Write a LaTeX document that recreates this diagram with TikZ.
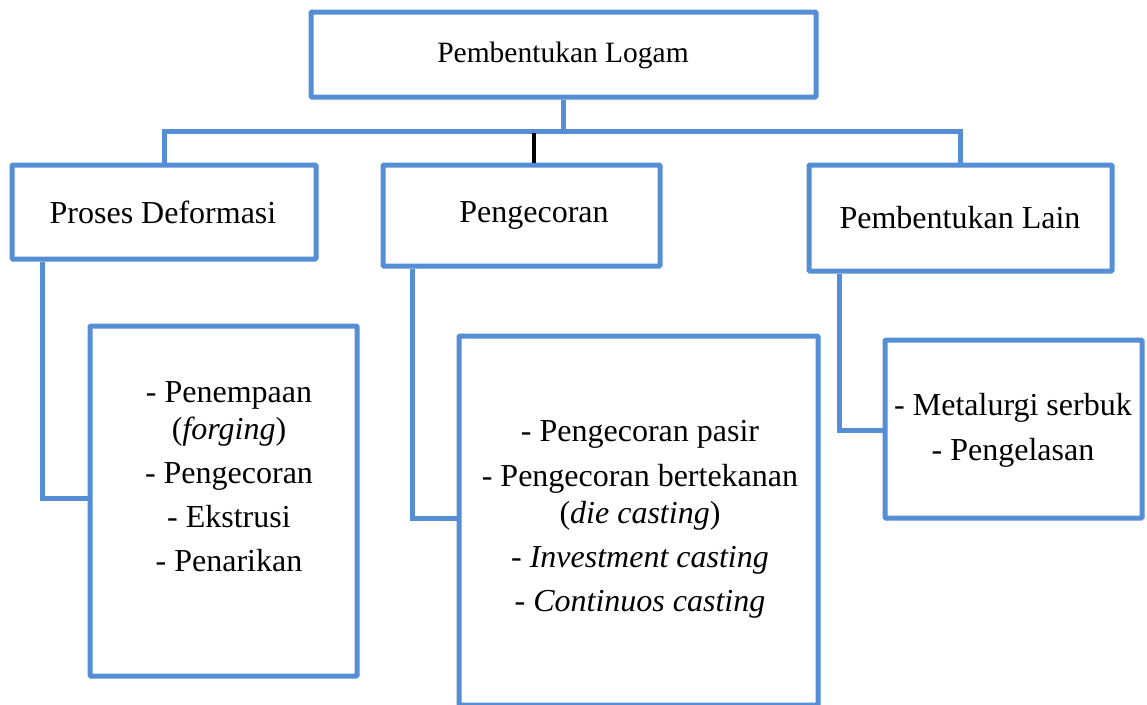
\documentclass[tikz,border=0pt]{standalone}
\usepackage{fontspec}
\setmainfont{Liberation Serif}
\definecolor{bblue}{RGB}{85,142,213}
\begin{document}
\begin{tikzpicture}[x=1pt,y=-1pt,
  box/.style={draw=bblue,line width=5pt,rounded corners=1pt,fill=white,inner sep=0pt},
  wire/.style={draw=bblue,line width=5pt},
  txt/.style={align=center,font=\fontsize{32}{37}\selectfont,inner sep=0pt},
  toptxt/.style={align=center,font=\fontsize{29.5}{35}\selectfont,inner sep=0pt}]
\useasboundingbox (0,0) rectangle (1147,704);
\clip (0,0) rectangle (1147,704);
\fill[white] (0,0) rectangle (1147,704);
% boxes
\node[box,minimum width=505pt,minimum height=85pt] (top) at (563.5,54.5) {};
\node[box,minimum width=304pt,minimum height=94pt] (pd) at (164,212) {};
\node[box,minimum width=277pt,minimum height=101pt] (pc) at (521.5,215.5) {};
\node[box,minimum width=303pt,minimum height=106pt] (pl) at (960.5,218) {};
\node[box,minimum width=267pt,minimum height=350pt] (c1) at (223.5,501) {};
\node[box,minimum width=359pt,minimum height=369pt] (c2) at (638.5,520.5) {};
\node[box,minimum width=257pt,minimum height=178pt] (c3) at (1013.5,429) {};
% texts
\node[toptxt] (ttop) at (563,55) {Pembentukan Logam};
\node[txt] (tpd) at (163,212) {Proses Deformasi};
\node[txt] (tpc) at (534,215) {Pengecoran};
\node[txt] (tpl) at (960,218) {Pembentukan Lain};
\node[txt] (t1) at (229,477) {- Penempaan\\(\textit{forging})\\[7pt]- Pengecoran\\[7pt]- Ekstrusi\\[7pt]- Penarikan};
\node[txt] (t2) at (640,519) {- Pengecoran pasir\\[8pt]- Pengecoran bertekanan\\(\textit{die casting})\\[7pt]- \textit{Investment casting}\\[7pt]- \textit{Continuos casting}};
\node[txt] (t3) at (1013,430) {- Metalurgi serbuk\\[8pt]- Pengelasan};
% connectors
\coordinate (bus) at (563.5,131);
\draw[wire] (top.south) -- (bus);
\draw[wire] (pd.north) |- (bus) -| (pl.north);
\coordinate (bk) at (534,133);
\draw[black,line width=4pt] (bk) -- (bk |- pc.north);
\coordinate (j1) at (42,498);
\coordinate (j2) at (412,518);
\coordinate (j3) at (839,430);
\draw[wire] (pd.south -| j1) -- (j1) -- (j1 -| c1.west);
\draw[wire] (pc.south -| j2) -- (j2) -- (j2 -| c2.west);
\draw[wire] (pl.south -| j3) -- (j3) -- (j3 -| c3.west);
\end{tikzpicture}
\end{document}
